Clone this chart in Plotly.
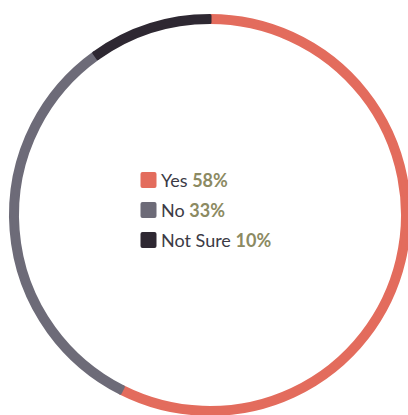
import plotly.graph_objects as go

categories = ["Yes", "No", "Not Sure"]
values = [58, 33, 10]
colors = ["#E36C5D", "#6D6B78", "#2E2832"]
pct_color = "#8C8A62"
text_color = "#3B3A45"

W, H = 420, 430
cx, cy, r = 210, 215, 199.5

fig = go.Figure(go.Pie(
    labels=categories,
    values=values,
    marker=dict(colors=colors, line=dict(color=colors, width=3)),
    hole=192.5 / 199.5,
    sort=False,
    direction="clockwise",
    rotation=0,
    textinfo="none",
    hoverinfo="label+percent",
    showlegend=False,
    domain=dict(x=[(cx - r) / W, (cx + r) / W], y=[(H - cy - r) / H, (H - cy + r) / H]),
))

# centred legend: rounded swatches + labels built from the data arrays
row_y0, row_gap = 180, 30
sq_x, txt_x = 148.5, 159
shapes, annotations = [], []
sq_path = ("M-6,-8 L6,-8 Q8,-8 8,-6 L8,6 Q8,8 6,8 L-6,8 "
           "Q-8,8 -8,6 L-8,-6 Q-8,-8 -6,-8 Z")
for i, (c, v, col) in enumerate(zip(categories, values, colors)):
    yc = row_y0 + i * row_gap
    shapes.append(dict(
        type="path", xref="paper", yref="paper",
        xsizemode="pixel", ysizemode="pixel",
        xanchor=sq_x / W, yanchor=1 - yc / H,
        path=sq_path, fillcolor=col, line=dict(width=0),
    ))
    annotations.append(dict(
        xref="paper", yref="paper", x=txt_x / W, y=1 - yc / H,
        xanchor="left", yanchor="middle", showarrow=False,
        text=f"{c} <b style='color:{pct_color}'>{v}%</b>",
        font=dict(family="Lato, sans-serif", size=18, color=text_color),
    ))

fig.update_layout(
    width=W, height=H,
    margin=dict(l=0, r=0, t=0, b=0),
    paper_bgcolor="white",
    plot_bgcolor="white",
    font=dict(family="Lato, sans-serif", color=text_color),
    shapes=shapes,
    annotations=annotations,
)

fig.write_html(
    "out.html",
    config={"displayModeBar": False},
    post_script="document.body.style.margin='0';document.body.style.overflow='hidden';document.documentElement.style.overflow='hidden';",
)
